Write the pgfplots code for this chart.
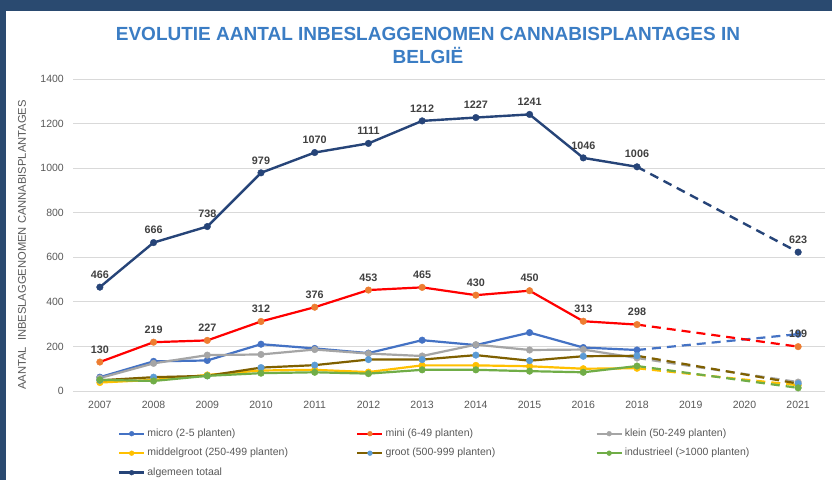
\documentclass[border=0pt]{standalone}
\usepackage{pgfplots}
\pgfplotsset{compat=1.18}
\usepackage{fontspec}
\setmainfont{Liberation Sans}
\definecolor{framec}{RGB}{42,74,112}
\definecolor{titlec}{RGB}{59,125,196}
\definecolor{gridc}{RGB}{217,217,217}
\definecolor{tickc}{RGB}{89,89,89}
\definecolor{labelc}{RGB}{64,64,64}
\definecolor{microc}{RGB}{68,114,196}
\definecolor{minil}{RGB}{255,0,0}
\definecolor{minim}{RGB}{237,125,49}
\definecolor{kleinc}{RGB}{165,165,165}
\definecolor{midc}{RGB}{255,192,0}
\definecolor{grootl}{RGB}{127,96,0}
\definecolor{grootm}{RGB}{91,155,213}
\definecolor{indc}{RGB}{112,173,71}
\definecolor{totc}{RGB}{38,68,120}
\pgfplotsset{/pgf/number format/assume math mode=true, /pgf/number format/1000 sep={}}
\begin{document}
\begin{tikzpicture}
\fill[white] (0bp,0bp) rectangle (832bp,480bp);
\fill[framec] (0bp,469bp) rectangle (832bp,480bp);
\fill[framec] (0bp,0bp) rectangle (6bp,480bp);
\node[anchor=base, inner sep=0pt, font=\fontsize{19bp}{22bp}\selectfont\bfseries, text=titlec] at (428bp,439bp) {EVOLUTIE AANTAL INBESLAGGENOMEN CANNABISPLANTAGES IN};
\node[anchor=base, inner sep=0pt, font=\fontsize{19bp}{22bp}\selectfont\bfseries, text=titlec] at (428bp,416bp) {BELGIË};
\node[rotate=90, inner sep=0pt, font=\fontsize{11.2bp}{13bp}\selectfont, text=tickc] at (22bp,235bp) {AANTAL\ \ INBESLAGGENOMEN CANNABISPLANTAGES};
\begin{axis}[
  at={(73bp,89bp)}, anchor=south west, scale only axis,
  width=752bp, height=312bp,
  xmin=-0.5, xmax=13.5, ymin=0, ymax=1400,
  xtick={0,...,13},
  xticklabels={2007,2008,2009,2010,2011,2012,2013,2014,2015,2016,2018,2019,2020,2021},
  ytick={0,200,...,1400},
  ymajorgrids, grid style={draw=gridc, line width=0.8bp},
  axis line style={draw=none}, tick style={draw=none},
  tick label style={font=\fontsize{10.5bp}{12bp}\selectfont, text=tickc, inner sep=0pt},
  xticklabel style={anchor=north, yshift=-9.5bp},
  yticklabel style={anchor=east, xshift=-9bp},
  clip=false,
  legend columns=3,
  legend cell align=left,
  legend style={draw=none, fill=none, inner sep=0pt, outer sep=0pt,
    at={(axis description cs:0.0598,-0.120)}, anchor=north west,
    row sep=9bp, column sep=0pt,
    font=\fontsize{10.5bp}{12bp}\selectfont, text=tickc,
    nodes={inner sep=0pt, text height=8bp, text depth=2.5bp}},
  legend image code/.code={\draw[#1, mark repeat=2, mark phase=2, mark size=2.4bp] plot coordinates {(0bp,0bp) (12.5bp,0bp) (25bp,0bp)};},
  every node near coord/.append style={font=\fontsize{10.8bp}{12bp}\selectfont\bfseries, text=labelc, inner sep=0pt, anchor=south, yshift=8.5bp},
  mark size=3.3bp,
]
% solid series
\addplot[color=microc, line width=2.2bp, mark=*, mark options={line width=0.4bp}] coordinates {(0,62)(1,133)(2,137)(3,210)(4,191)(5,170)(6,228)(7,206)(8,262)(9,195)(10,184)};
\addlegendentry{\makebox[211bp][l]{\hspace{2bp}micro (2-5 planten)}}
\addplot[color=minil, line width=2.2bp, mark=*, mark options={fill=minim, draw=minim, line width=0.4bp}, nodes near coords] coordinates {(0,130)(1,219)(2,227)(3,312)(4,376)(5,453)(6,465)(7,430)(8,450)(9,313)(10,298)};
\addlegendentry{\makebox[212bp][l]{\hspace{2bp}mini (6-49 planten)}}
\addplot[color=kleinc, line width=2.2bp, mark=*, mark options={line width=0.4bp}] coordinates {(0,58)(1,124)(2,161)(3,164)(4,186)(5,168)(6,157)(7,208)(8,184)(9,186)(10,148)};
\addlegendentry{\hspace{2bp}klein (50-249 planten)}
\addplot[color=midc, line width=2.2bp, mark=*, mark options={line width=0.4bp}] coordinates {(0,38)(1,50)(2,72)(3,92)(4,95)(5,85)(6,115)(7,115)(8,111)(9,100)(10,102)};
\addlegendentry{\makebox[211bp][l]{\hspace{2bp}middelgroot (250-499 planten)}}
\addplot[color=grootl, line width=2.2bp, mark=*, mark options={fill=grootm, draw=grootm, line width=0.4bp}] coordinates {(0,48)(1,62)(2,68)(3,105)(4,116)(5,141)(6,141)(7,161)(8,136)(9,156)(10,158)};
\addlegendentry{\makebox[212bp][l]{\hspace{2bp}groot (500-999 planten)}}
\addplot[color=indc, line width=2.2bp, mark=*, mark options={line width=0.4bp}] coordinates {(0,50)(1,45)(2,68)(3,80)(4,84)(5,78)(6,95)(7,95)(8,89)(9,84)(10,112)};
\addlegendentry{\hspace{2bp}industrieel (>1000 planten)}
\addplot[color=totc, line width=2.4bp, mark=*, mark options={line width=0.4bp}, nodes near coords] coordinates {(0,466)(1,666)(2,738)(3,979)(4,1070)(5,1111)(6,1212)(7,1227)(8,1241)(9,1046)(10,1006)};
\addlegendentry{\hspace{2bp}algemeen totaal}
% dashed projections 2018 -> 2021
\addplot[forget plot, color=microc, line width=2.2bp, dash pattern=on 9bp off 6bp] coordinates {(10,184)(13,255)};
\addplot[forget plot, color=minil, line width=2.2bp, dash pattern=on 9bp off 6bp] coordinates {(10,298)(13,199)};
\addplot[forget plot, color=kleinc, line width=2.2bp, dash pattern=on 9bp off 6bp] coordinates {(10,148)(13,40)};
\addplot[forget plot, color=midc, line width=2.2bp, dash pattern=on 9bp off 6bp] coordinates {(10,102)(13,26)};
\addplot[forget plot, color=grootl, line width=2.2bp, dash pattern=on 9bp off 6bp] coordinates {(10,158)(13,33)};
\addplot[forget plot, color=indc, line width=2.2bp, dash pattern=on 9bp off 6bp] coordinates {(10,112)(13,14)};
\addplot[forget plot, color=totc, line width=2.4bp, dash pattern=on 9bp off 6bp] coordinates {(10,1006)(13,623)};
% 2021 markers
\addplot[forget plot, only marks, mark=*, mark options={line width=0.4bp}, color=microc] coordinates {(13,255)};
\addplot[forget plot, only marks, mark=*, mark options={line width=0.4bp}, color=minim, nodes near coords] coordinates {(13,199)};
\addplot[forget plot, only marks, mark=*, mark options={line width=0.4bp}, color=kleinc] coordinates {(13,40)};
\addplot[forget plot, only marks, mark=*, mark options={line width=0.4bp}, color=midc] coordinates {(13,26)};
\addplot[forget plot, only marks, mark=*, mark options={line width=0.4bp}, color=grootm] coordinates {(13,33)};
\addplot[forget plot, only marks, mark=*, mark options={line width=0.4bp}, color=indc] coordinates {(13,14)};
\addplot[forget plot, only marks, mark=*, mark options={line width=0.4bp}, color=totc, nodes near coords] coordinates {(13,623)};
\end{axis}
\end{tikzpicture}
\end{document}
